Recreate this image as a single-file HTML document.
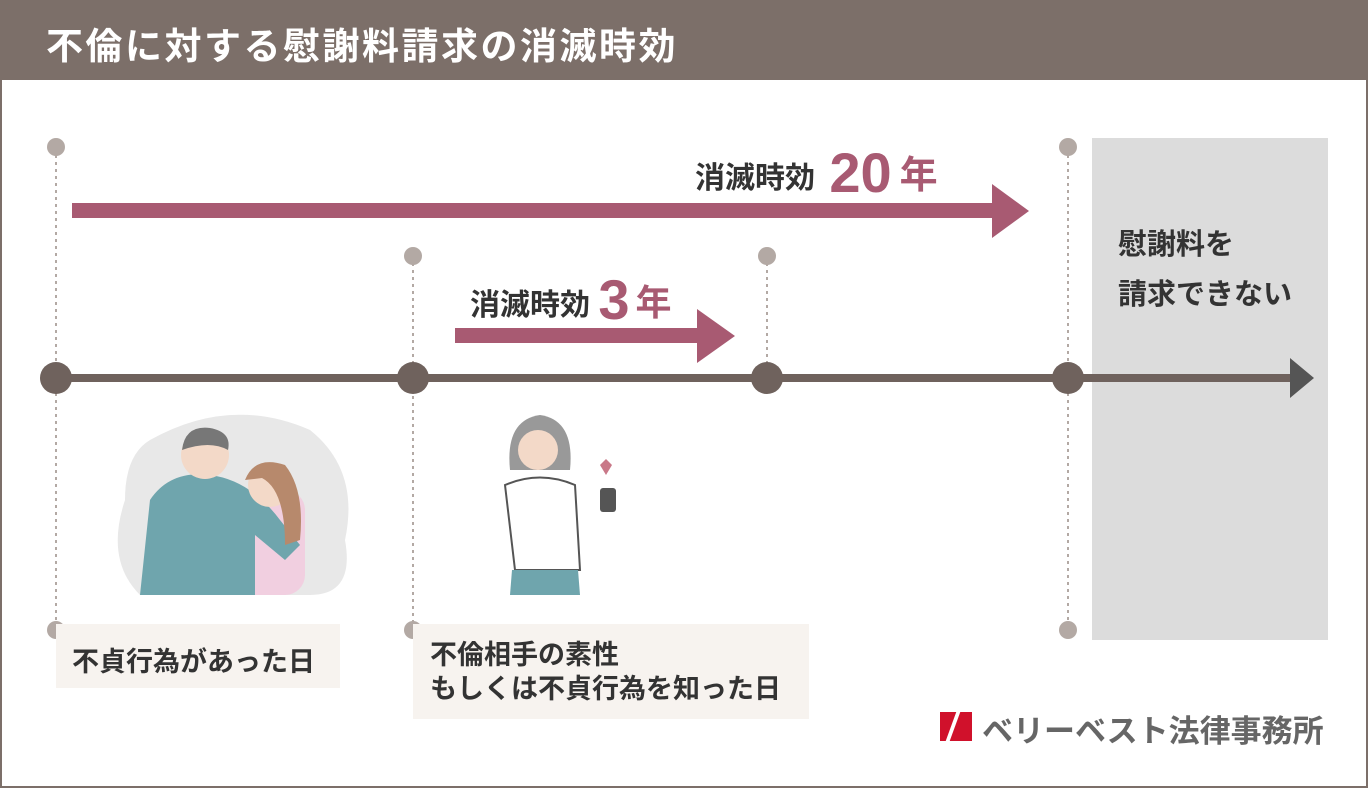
<!DOCTYPE html>
<html><head><meta charset="utf-8"><style>
*{margin:0;padding:0}
body{width:1368px;height:790px;background:#fff;position:relative;overflow:hidden;font-family:"Liberation Sans","Noto Sans CJK JP",sans-serif}
.t{position:absolute;white-space:nowrap;font-weight:bold}
</style></head><body>
<div style="position:absolute;left:0;top:0;width:1368px;height:80px;background:#7c6f69"></div>
<div style="position:absolute;left:0;top:80px;width:1364px;height:706px;border:2px solid #7c6f69;border-top:none"></div>
<div class="t" style="left:46px;top:16px;font-size:37px;color:#fff;letter-spacing:2.5px">不倫に対する慰謝料請求の消滅時効</div>
<div style="position:absolute;left:1092px;top:138px;width:236px;height:502px;background:#dcdcdc"></div>
<svg style="position:absolute;left:0;top:0" width="1368" height="790">
<g stroke="#b3a9a4" stroke-width="2" stroke-dasharray="3,4">
<line x1="56" y1="148" x2="56" y2="630"/><line x1="413" y1="256" x2="413" y2="630"/>
<line x1="767" y1="256" x2="767" y2="378"/><line x1="1068" y1="148" x2="1068" y2="630"/></g>
<g fill="#b3a9a4">
<circle cx="56" cy="147" r="9"/><circle cx="413" cy="256" r="9"/><circle cx="767" cy="256" r="9"/><circle cx="1068" cy="147" r="9"/>
<circle cx="56" cy="630" r="9"/><circle cx="413" cy="630" r="9"/><circle cx="1068" cy="630" r="9"/></g>
<rect x="56" y="374" width="1240" height="8" fill="#6f625d"/>
<polygon points="1290,358 1314,378 1290,398" fill="#555"/>
<g fill="#6f625d"><circle cx="56" cy="378" r="16"/><circle cx="413" cy="378" r="16"/><circle cx="767" cy="378" r="16"/><circle cx="1068" cy="378" r="16"/></g>
<rect x="72" y="203" width="925" height="15" fill="#a85a72"/><polygon points="992,184 1029,211 992,238" fill="#a85a72"/>
<rect x="455" y="328" width="245" height="15" fill="#a85a72"/><polygon points="697,309 735,336 697,363" fill="#a85a72"/>
<path d="M150,440 Q230,395 310,430 Q360,470 345,540 Q355,595 310,595 L140,595 Q105,560 125,500 Q125,455 150,440Z" fill="#e8e8e8"/>
<rect x="235" y="490" width="70" height="105" rx="20" fill="#f1cfe0"/>
<path d="M150,500 Q170,470 210,475 Q250,480 280,520 L300,545 L285,560 L255,535 L255,595 L140,595Z" fill="#6fa5ad"/>
<circle cx="205" cy="455" r="24" fill="#f3d9c8"/><path d="M182,450 Q185,425 210,428 Q232,432 228,450 Q210,440 182,450Z" fill="#777"/>
<circle cx="270" cy="485" r="22" fill="#f3d9c8"/><path d="M245,480 Q255,455 285,465 Q305,490 300,540 L285,545 Q285,490 262,478Z" fill="#b7896c"/>
<path d="M510,470 Q505,420 540,415 Q575,420 570,470Z" fill="#999"/>
<circle cx="538" cy="450" r="20" fill="#f3d9c8"/>
<path d="M505,485 Q540,470 575,485 L580,570 L515,570Z" fill="#fff" stroke="#555" stroke-width="2"/>
<path d="M512,570 L578,570 L580,595 L510,595Z" fill="#6fa5ad"/>
<rect x="600" y="488" width="16" height="24" rx="3" fill="#555"/>
<path d="M600,465 l6,-6 6,6 -6,10z" fill="#c97888"/>
</svg>
<div class="t" style="left:695px;top:136px;font-size:30px;color:#333">消滅時効 <span style="font-size:56px;color:#a85a72;position:relative;top:4px;margin-left:6px">20</span><span style="font-size:38px;color:#a85a72;margin-left:8px">年</span></div>
<div class="t" style="left:470px;top:263px;font-size:30px;color:#333">消滅時効 <span style="font-size:56px;color:#a85a72;position:relative;top:4px">3</span><span style="font-size:36px;color:#a85a72;margin-left:6px">年</span></div>
<div class="t" style="left:1118px;top:220px;font-size:29px;color:#333;line-height:50px">慰謝料を<br>請求できない</div>
<div style="position:absolute;left:56px;top:624px;width:284px;height:64px;background:#f7f3ef"></div>
<div class="t" style="left:72px;top:640px;font-size:27px;color:#333">不貞行為があった日</div>
<div style="position:absolute;left:413px;top:624px;width:396px;height:95px;background:#f7f3ef"></div>
<div class="t" style="left:430px;top:638px;font-size:27px;color:#333;line-height:34px">不倫相手の素性<br>もしくは不貞行為を知った日</div>
<div style="position:absolute;left:940px;top:712px;width:32px;height:29px;background:#d0112b"></div>
<div style="position:absolute;left:951px;top:710px;width:4px;height:33px;background:#fff;transform:skewX(-20deg)"></div>
<div class="t" style="left:982px;top:706px;font-size:31px;color:#666">ベリーベスト法律事務所</div>
</body></html>
